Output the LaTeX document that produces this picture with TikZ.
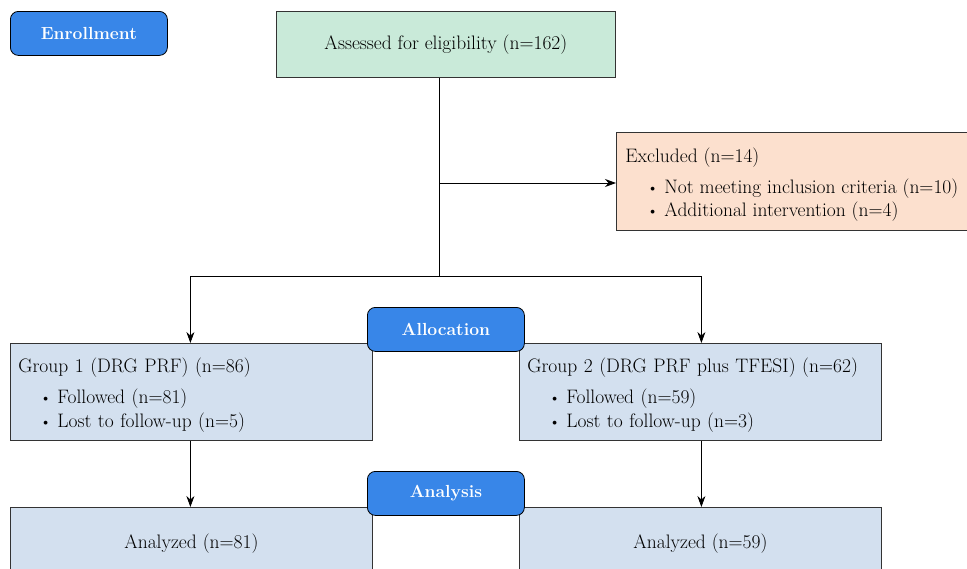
\documentclass[tikz,border=0pt]{standalone}
\usetikzlibrary{arrows.meta,calc}
\definecolor{hdrblue}{HTML}{3886E8}
\definecolor{boxgreen}{HTML}{C9EAD9}
\definecolor{boxpeach}{HTML}{FCE0CE}
\definecolor{boxblue}{HTML}{D3E0EF}
\definecolor{edgegray}{HTML}{333333}
\newcommand{\bulletline}[1]{\hspace*{22pt}\makebox[8pt][l]{\raisebox{1pt}{\fontsize{14}{14}\selectfont\textbullet}}\hspace{9pt}#1}
\newcommand{\topstrut}{\rule{0pt}{21pt}}
\begin{document}
\begin{tikzpicture}[x=1pt,y=-1pt,
  every node/.style={font=\fontsize{19.5}{23.5}\selectfont},
  box/.style={draw=edgegray, line width=0.8pt, rectangle, inner xsep=8pt, inner ysep=0pt, anchor=north west},
  phase/.style={draw=black, line width=0.8pt, rounded corners=8pt, fill=hdrblue, text=white,
    font=\fontsize{17.5}{20}\selectfont\bfseries, minimum width=157pt, minimum height=44pt, anchor=north west, inner sep=0pt},
  conn/.style={line width=0.8pt, draw=black},
  arr/.style={conn, -{Stealth[length=11pt,width=8pt]}}
]
\useasboundingbox (0,0) rectangle (967,568);

% boxes
\node[box, fill=boxgreen, minimum width=339pt, minimum height=66pt] (assess) at (276,11)
  {Assessed for eligibility (n=162)};
\node[box, fill=boxpeach, minimum width=351pt, minimum height=98pt, align=left, inner xsep=9pt] (excl) at (616,132)
  {\topstrut Excluded (n=14)\\[7.5pt]
   \bulletline{Not meeting inclusion criteria (n=10)}\\
   \bulletline{Additional intervention (n=4)}};
\node[box, fill=boxblue, minimum width=362pt, minimum height=97pt, text width=346pt, align=left] (g1) at (10,343)
  {\topstrut Group 1 (DRG PRF) (n=86)\\[7.5pt]
   \bulletline{Followed (n=81)}\\
   \bulletline{Lost to follow-up (n=5)}};
\node[box, fill=boxblue, minimum width=362pt, minimum height=97pt, text width=346pt, align=left] (g2) at (519,343)
  {\topstrut Group 2 (DRG PRF plus TFESI) (n=62)\\[7.5pt]
   \bulletline{Followed (n=59)}\\
   \bulletline{Lost to follow-up (n=3)}};
\node[box, fill=boxblue, minimum width=362pt, minimum height=72pt] (a1) at (10,507) {Analyzed (n=81)};
\node[box, fill=boxblue, minimum width=362pt, minimum height=72pt] (a2) at (519,507) {Analyzed (n=59)};

% connectors
\coordinate (b1) at (439,183);
\coordinate (b2) at (439,276);
\draw[conn] (assess.south -| b2) -- (b2);
\draw[arr] (b1) -- (b1 -| excl.west);
\draw[arr] (b2) -| ($(g1.north)+(-1,0)$);
\draw[arr] (b2) -| ($(g2.north)+(1,0)$);
\draw[arr] ($(g1.south)+(-1,0)$) -- ($(a1.north)+(-1,0)$);
\draw[arr] ($(g2.south)+(1,0)$) -- ($(a2.north)+(1,0)$);

% phase labels
\node[phase] (enroll) at (10,11) {Enrollment};
\node[phase] (alloc) at (367,307) {Allocation};
\node[phase] (analysis) at (367,471) {Analysis};
\end{tikzpicture}
\end{document}
